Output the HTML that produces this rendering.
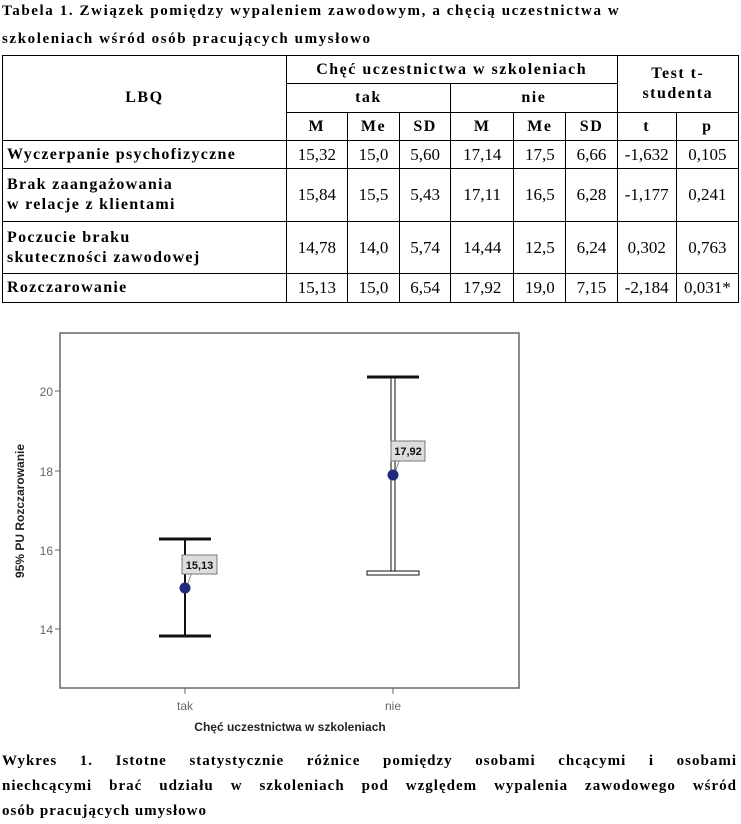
<!DOCTYPE html>
<html><head><meta charset="utf-8"><style>
body{margin:0;width:741px;height:824px;background:#fff;position:relative;overflow:hidden;font-family:"Liberation Serif",serif;color:#000}
.t{position:absolute;left:2px;font-weight:bold;font-size:15px;white-space:nowrap;letter-spacing:1.6px}
table{position:absolute;left:2px;top:55px;border-collapse:collapse;table-layout:fixed;width:737px;font-size:17px}
td{border:1px solid #000;text-align:center;padding:0;line-height:20px;white-space:nowrap}
td.l{text-align:left;padding-left:4px;font-weight:bold;font-size:16px;letter-spacing:1.3px}
.h{font-weight:bold;font-size:16px;letter-spacing:1.5px}
.cl{position:absolute;left:2px;width:735px;font-weight:bold;font-size:15px;letter-spacing:1px;white-space:nowrap}
.j{text-align:justify;text-align-last:justify;white-space:normal}
</style></head><body>
<div class="t" style="top:3px">Tabela 1. Związek pomiędzy wypaleniem zawodowym, a chęcią uczestnictwa w</div>
<div class="t" style="top:31px">szkoleniach wśród osób pracujących umysłowo</div>
<table>
<colgroup><col style="width:283px"><col style="width:61px"><col style="width:52px"><col style="width:51px"><col style="width:63px"><col style="width:52px"><col style="width:51px"><col style="width:59px"><col style="width:62px"></colgroup>
<tr style="height:28px"><td rowspan="3" class="h">LBQ</td><td colspan="6" class="h">Chęć uczestnictwa w szkoleniach</td><td colspan="2" rowspan="2" class="h">Test t-<br>studenta</td></tr>
<tr style="height:29px"><td colspan="3" class="h">tak</td><td colspan="3" class="h">nie</td></tr>
<tr style="height:28px"><td class="h">M</td><td class="h">Me</td><td class="h">SD</td><td class="h">M</td><td class="h">Me</td><td class="h">SD</td><td class="h">t</td><td class="h">p</td></tr>
<tr style="height:28px"><td class="l">Wyczerpanie psychofizyczne</td><td>15,32</td><td>15,0</td><td>5,60</td><td>17,14</td><td>17,5</td><td>6,66</td><td>-1,632</td><td>0,105</td></tr>
<tr style="height:53px"><td class="l">Brak zaangażowania<br>w relacje z klientami</td><td>15,84</td><td>15,5</td><td>5,43</td><td>17,11</td><td>16,5</td><td>6,28</td><td>-1,177</td><td>0,241</td></tr>
<tr style="height:52px"><td class="l">Poczucie braku<br>skuteczności zawodowej</td><td>14,78</td><td>14,0</td><td>5,74</td><td>14,44</td><td>12,5</td><td>6,24</td><td>0,302</td><td>0,763</td></tr>
<tr style="height:29px"><td class="l">Rozczarowanie</td><td>15,13</td><td>15,0</td><td>6,54</td><td>17,92</td><td>19,0</td><td>7,15</td><td>-2,184</td><td>0,031*</td></tr>
</table>
<svg style="position:absolute;left:0;top:0" width="741" height="824" font-family="Liberation Sans, sans-serif">
<rect x="60" y="333" width="459" height="355" fill="none" stroke="#666" stroke-width="1.5"/>
<g stroke="#666" stroke-width="1"><line x1="55" y1="391" x2="60" y2="391"/><line x1="55" y1="471" x2="60" y2="471"/><line x1="55" y1="550" x2="60" y2="550"/><line x1="55" y1="629" x2="60" y2="629"/><line x1="185" y1="688" x2="185" y2="694"/><line x1="393" y1="688" x2="393" y2="694"/></g>
<g font-size="12" fill="#666" text-anchor="end"><text x="53" y="396">20</text><text x="53" y="476">18</text><text x="53" y="555">16</text><text x="53" y="634">14</text></g>
<g font-size="12" fill="#666" text-anchor="middle"><text x="185" y="710">tak</text><text x="393" y="710">nie</text></g>
<text x="290" y="731" font-size="12" font-weight="bold" text-anchor="middle" fill="#222">Chęć uczestnictwa w szkoleniach</text>
<text transform="translate(24,511) rotate(-90)" font-size="12" font-weight="bold" text-anchor="middle" fill="#222">95% PU Rozczarowanie</text>
<g stroke="#111"><line x1="185" y1="539" x2="185" y2="636" stroke-width="2"/><line x1="159" y1="539" x2="211" y2="539" stroke-width="3"/><line x1="159" y1="636" x2="211" y2="636" stroke-width="3"/>
<rect x="391" y="377" width="4" height="196" fill="#fff" stroke-width="1"/><line x1="367" y1="377" x2="419" y2="377" stroke-width="3"/><rect x="367" y="571" width="52" height="4" fill="#fff" stroke-width="1"/></g>
<line x1="187" y1="586" x2="192" y2="572" stroke="#888"/><line x1="395" y1="473" x2="399" y2="461" stroke="#888"/>
<circle cx="185" cy="588" r="5.5" fill="#1f2a7a"/><circle cx="393" cy="475" r="5.5" fill="#1f2a7a"/>
<rect x="182" y="555" width="35" height="19" fill="#ddd" stroke="#777"/><text x="199.5" y="569" font-size="11" font-weight="bold" text-anchor="middle" fill="#111">15,13</text>
<rect x="391" y="441" width="34" height="20" fill="#ddd" stroke="#777"/><text x="408" y="455" font-size="11" font-weight="bold" text-anchor="middle" fill="#111">17,92</text>
</svg>
<div class="cl j" style="top:753px">Wykres 1. Istotne statystycznie różnice pomiędzy osobami chcącymi i osobami</div>
<div class="cl j" style="top:778px">niechcącymi brać udziału w szkoleniach pod względem wypalenia zawodowego wśród</div>
<div class="cl" style="top:803px">osób pracujących umysłowo</div>
</body></html>
